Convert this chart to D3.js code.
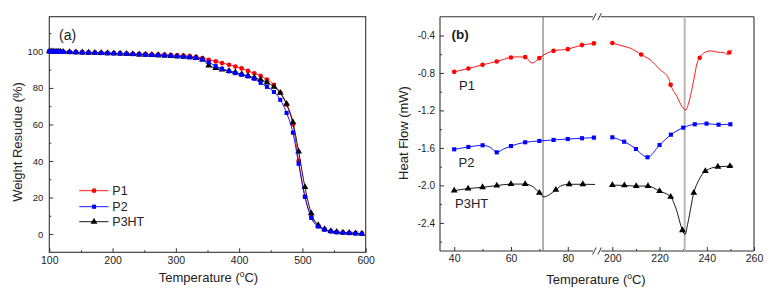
<!DOCTYPE html>
<html><head><meta charset="utf-8">
<script src="https://cdn.jsdelivr.net/npm/d3@7"></script>
<style>
body{margin:0;background:#fff}
svg{display:block}
text{font-family:"Liberation Sans",Arial,sans-serif;fill:#222}
</style>
</head><body>
<svg id="c" width="772" height="297"></svg>
<script>
// ---------- (a) TGA data ----------
const tgaTemp = [100,103,106,109,112,115,118,122,
  132,142,152,162,172,182,192,202,212,222,232,242,252,262,272,282,292,302,312,322,332,342,
  352,363,373,384,394,404,414,424,434,444,
  455,465,475,485,494,504,514,525,535,545,554,564,574,584,594];
const tgaP1 = [100,100,100,99.9,99.9,99.9,99.8,99.8,
  99.7,99.6,99.5,99.4,99.3,99.2,99.1,99.0,98.9,98.8,98.7,98.6,98.5,98.4,98.3,98.2,98.0,97.9,97.7,97.4,97.0,96.4,
  95.4,94.5,93.6,92.7,91.7,90.7,89.3,88.0,86.6,84.6,
  81.7,77.4,70.8,60.0,40.0,20.6,9.6,4.5,2.5,1.5,1.1,0.8,0.6,0.4,0.2];
const tgaP2 = [100,100,100,99.9,99.9,99.8,99.8,99.7,
  99.6,99.5,99.4,99.3,99.2,99.1,99.0,98.9,98.8,98.6,98.5,98.3,98.2,98.0,97.9,97.7,97.5,97.3,97.1,96.8,96.4,95.5,
  94.0,91.9,90.4,89.1,88.1,87.2,86.3,85.0,82.8,80.6,
  77.8,73.5,66.3,55.5,38.5,20.3,8.8,4.1,2.4,1.4,0.9,0.7,0.5,0.3,0.1];
const tgaP3HT = [100,100,100,99.9,99.9,99.8,99.8,99.7,
  99.6,99.5,99.4,99.3,99.2,99.1,99.0,98.9,98.8,98.6,98.5,98.3,98.2,98.0,97.9,97.7,97.5,97.3,97.1,96.8,96.4,95.6,
  92.3,90.9,90.1,89.3,88.5,87.5,86.6,85.6,84.5,83.0,
  80.6,77.3,71.3,61.2,45.2,25.7,11.3,4.8,2.6,1.6,1.1,0.8,0.6,0.4,0.2];
const tgaXTicks = [100,200,300,400,500,600];
const tgaXMinor = [150,250,350,450,550];
const tgaYTicks = [0,20,40,60,80,100];
const tgaYMinor = [10,30,50,70,90,110];

// ---------- (b) DSC data: [temperature, heat flow] ----------
const dscP1Left = [[40,-0.788],[45,-0.753],[50,-0.713],[55,-0.678],[60,-0.635],[62.5,-0.628],[65,-0.631],[67.4,-0.695],[70,-0.642],[72,-0.6],[75,-0.564],[80,-0.546],[85,-0.503],[89.2,-0.485]];
const dscP1Right = [[200,-0.481],[204,-0.51],[207.5,-0.535],[212.2,-0.603],[216,-0.66],[220.3,-0.767],[223.8,-0.856],[224.7,-0.927],[227.4,-1.052],[229.5,-1.159],[231.1,-1.195],[232.3,-1.123],[234.5,-0.874],[235.9,-0.695],[237,-0.638],[239.4,-0.578],[241.6,-0.564],[244.4,-0.578],[247.2,-0.582],[248.7,-0.603],[249.5,-0.582],[250.8,-0.556]];
const dscP1Marks = [40,45,50,55,60,65,70,75,80,85,89.2,200,212.2,224.7,237,249.5];

const dscP2Left = [[40,-1.615],[45,-1.59],[50,-1.572],[53,-1.6],[55,-1.647],[57.5,-1.61],[60,-1.58],[65,-1.54],[70,-1.526],[75,-1.515],[80,-1.505],[85,-1.497],[89.2,-1.49]];
const dscP2Right = [[200,-1.487],[205,-1.534],[210,-1.612],[212.8,-1.675],[214.9,-1.70],[220,-1.569],[224.8,-1.459],[230,-1.384],[234.9,-1.348],[239.9,-1.341],[245,-1.352],[250,-1.348]];
const dscP2Marks = [40,45,50,55,60,65,70,75,80,85,89.2,200,205,210,214.9,220,224.8,230,234.9,239.9,245,250];

const dscP3Left = [[40,-2.056],[44.9,-2.034],[50,-2.02],[55,-2.002],[60,-1.986],[65,-1.986],[68,-2.02],[70,-2.079],[71.6,-2.122],[73.5,-2.1],[75.8,-2.047],[78,-2.0],[80.5,-1.988],[85.3,-1.988],[89.6,-1.99]];
const dscP3Right = [[200,-1.997],[205.1,-2.0],[210.1,-2.007],[215.1,-2.007],[220,-2.061],[224.7,-2.122],[227,-2.25],[229.7,-2.478],[230.8,-2.524],[232,-2.4],[234.5,-2.079],[236.5,-1.95],[239.4,-1.847],[244.7,-1.801],[249.8,-1.794],[251,-1.79]];
const dscP3Marks = [40,44.9,50,55,60,65,70,75.8,80.5,85.3,200,205.1,210.1,215.1,220,224.7,229.7,234.5,239.4,244.7,249.8];

const dscXTicks = [40,60,80,200,220,240,260];
const dscXMinor = [50,70,210,230,250];
const dscYTicks = [-0.4,-0.8,-1.2,-1.6,-2.0,-2.4];
const dscYMinor = [-0.6,-1.0,-1.4,-1.8,-2.2,-2.6];
const dscVLines = [71.3, 230.65];

const seriesNames = ["P1","P2","P3HT"];

// ---------- drawing ----------
const svg = d3.select("#c");
const AX = "#333";
const colors = {P1:"#ff0000", P2:"#0000ff", P3HT:"#000000"};
const symbols = {P1:d3.symbolCircle, P2:d3.symbolSquare, P3HT:d3.symbolTriangle};
const symSize = {P1:17, P2:17, P3HT:20};

function styleAxis(g, fs){
  g.select(".domain").remove();
  g.selectAll(".tick line").attr("stroke", AX).attr("stroke-width", 1);
  g.selectAll(".tick text").attr("font-size", fs).attr("fill","#222")
   .attr("font-family",'"Liberation Sans",Arial,sans-serif');
}
function drawMarkers(g, pts, x, y, name){
  g.selectAll(null).data(pts).join("path")
    .attr("transform", d => `translate(${x(d[0])},${y(d[1])})`)
    .attr("d", d3.symbol().type(symbols[name]).size(symSize[name])())
    .attr("fill", colors[name]);
}

// ===== Panel (a) =====
const xA = d3.scaleLinear().domain([100,600]).range([49.3,365.7]);
const yA = d3.scaleLinear().domain([-10,119]).range([252.3,16.7]);
const gA = svg.append("g");

gA.append("g").attr("transform","translate(0,252.3)")
  .call(d3.axisBottom(xA).tickValues(tgaXTicks).tickSize(-4).tickPadding(4).tickFormat(d3.format("d")))
  .call(g=>styleAxis(g,10.5));
gA.append("g").attr("transform","translate(0,252.3)")
  .call(d3.axisBottom(xA).tickValues(tgaXMinor).tickSize(-2).tickFormat(""))
  .call(g=>styleAxis(g,10.5));
gA.append("g").attr("transform","translate(49.3,0)")
  .call(d3.axisLeft(yA).tickValues(tgaYTicks).tickSize(-4).tickPadding(6).tickFormat(d3.format("d")))
  .call(g=>styleAxis(g,9.5));
gA.append("g").attr("transform","translate(49.3,0)")
  .call(d3.axisLeft(yA).tickValues(tgaYMinor).tickSize(-2).tickFormat(""))
  .call(g=>styleAxis(g,9.5));
gA.append("rect").attr("x",xA.range()[0]).attr("y",yA.range()[1])
  .attr("width",xA.range()[1]-xA.range()[0]).attr("height",yA.range()[0]-yA.range()[1])
  .attr("fill","none").attr("stroke",AX).attr("stroke-width",1.1);

const tgaSeries = [["P1",tgaP1],["P3HT",tgaP3HT],["P2",tgaP2]];
const lineA = d3.line().x(d=>xA(d[0])).y(d=>yA(d[1])).curve(d3.curveMonotoneX);
tgaSeries.forEach(([name, vals])=>{
  const pts = tgaTemp.map((t,i)=>[t, vals[i]]);
  gA.append("path").datum(pts).attr("d",lineA).attr("fill","none")
    .attr("stroke",colors[name]).attr("stroke-width",0.9);
  drawMarkers(gA, pts, xA, yA, name);
});

// legend
const legY = [190.7, 206.7, 221.7];
seriesNames.forEach((name,i)=>{
  gA.append("line").attr("x1",79.3).attr("x2",108.5).attr("y1",legY[i]).attr("y2",legY[i])
    .attr("stroke",colors[name]).attr("stroke-width",0.9);
  gA.append("path").attr("transform",`translate(94,${legY[i]})`)
    .attr("d", d3.symbol().type(symbols[name]).size(symSize[name])()).attr("fill",colors[name]);
  gA.append("text").attr("x",112.3).attr("y",legY[i]+4.4).attr("font-size",12.5).text(name);
});

gA.append("text").attr("x",59).attr("y",39.5).attr("font-size",14).text("(a)");
const tA = gA.append("text").attr("x",208.5).attr("y",281.7).attr("text-anchor","middle").attr("font-size",13);
tA.append("tspan").text("Temperature (");
tA.append("tspan").attr("dy",-5).attr("font-size",8.5).text("o");
tA.append("tspan").attr("dy",5).text("C)");
gA.append("text").attr("transform","translate(21.6,142) rotate(-90)").attr("text-anchor","middle")
  .attr("font-size",13).text("Weight Resudue (%)");

// ===== Panel (b) =====
const xB = d3.scaleLinear().domain([35,90.3,193.5,260]).range([440,597,597,754]);
const yB = d3.scaleLinear().domain([-2.7,-0.2]).range([251,16.7]);
const gB = svg.append("g");
const L=440, R=754, T=16.7, B=251, brk=597;

gB.append("g").attr("transform",`translate(0,${B})`)
  .call(d3.axisBottom(xB).tickValues(dscXTicks).tickSize(-4).tickPadding(4).tickFormat(d3.format("d")))
  .call(g=>styleAxis(g,10.5));
gB.append("g").attr("transform",`translate(0,${B})`)
  .call(d3.axisBottom(xB).tickValues(dscXMinor).tickSize(-2).tickFormat(""))
  .call(g=>styleAxis(g,10.5));
gB.append("g").attr("transform",`translate(${L},0)`)
  .call(d3.axisLeft(yB).tickValues(dscYTicks).tickSize(-4).tickPadding(5).tickFormat(d=>d.toFixed(1)))
  .call(g=>styleAxis(g,10));
gB.append("g").attr("transform",`translate(${L},0)`)
  .call(d3.axisLeft(yB).tickValues(dscYMinor).tickSize(-2).tickFormat(""))
  .call(g=>styleAxis(g,10));

// box with break
const boxSegs = [[L,T,L,B],[R,T,R,B],[L,T,brk-4,T],[brk+4,T,R,T],[L,B,brk-4,B],[brk+4,B,R,B]];
boxSegs.forEach(s=>gB.append("line").attr("x1",s[0]).attr("y1",s[1]).attr("x2",s[2]).attr("y2",s[3])
  .attr("stroke",AX).attr("stroke-width",1.1));
[T,B].forEach(yy=>[brk-2.6,brk+2.6].forEach(xx=>
  gB.append("line").attr("x1",xx-1.8).attr("y1",yy+3.5).attr("x2",xx+1.8).attr("y2",yy-3.5)
    .attr("stroke",AX).attr("stroke-width",1)));

// vertical reference lines
gB.append("line").attr("x1",xB(dscVLines[0])).attr("x2",xB(dscVLines[0])).attr("y1",T).attr("y2",B)
  .attr("stroke","#666").attr("stroke-width",1);
gB.append("line").attr("x1",xB(dscVLines[1])).attr("x2",xB(dscVLines[1])).attr("y1",T).attr("y2",B)
  .attr("stroke","#b8b8b8").attr("stroke-width",2);

const lineB = d3.line().x(d=>xB(d[0])).y(d=>yB(d[1])).curve(d3.curveMonotoneX);
const dscSeries = [
  ["P1",[dscP1Left,dscP1Right],dscP1Marks],
  ["P2",[dscP2Left,dscP2Right],dscP2Marks],
  ["P3HT",[dscP3Left,dscP3Right],dscP3Marks]];
dscSeries.forEach(([name,segs,marks])=>{
  segs.forEach(seg=>{
    gB.append("path").datum(seg).attr("d",lineB).attr("fill","none")
      .attr("stroke",colors[name]).attr("stroke-width",0.9);
    drawMarkers(gB, seg.filter(d=>marks.includes(d[0])), xB, yB, name);
  });
});

// series labels
const labPos = [[459,90],[458.5,166.7],[455,207.5]];
seriesNames.forEach((n,i)=>gB.append("text").attr("x",labPos[i][0]).attr("y",labPos[i][1]).attr("font-size",13).text(n));

gB.append("text").attr("x",451.5).attr("y",39).attr("font-size",13.5).attr("font-weight","bold").text("(b)");
const tB = gB.append("text").attr("x",596).attr("y",284).attr("text-anchor","middle").attr("font-size",13);
tB.append("tspan").text("Temperature (");
tB.append("tspan").attr("dy",-5).attr("font-size",8.5).text("o");
tB.append("tspan").attr("dy",5).text("C)");
gB.append("text").attr("transform","translate(408,133) rotate(-90)").attr("text-anchor","middle")
  .attr("font-size",13).text("Heat Flow (mW)");
</script>
</body></html>
